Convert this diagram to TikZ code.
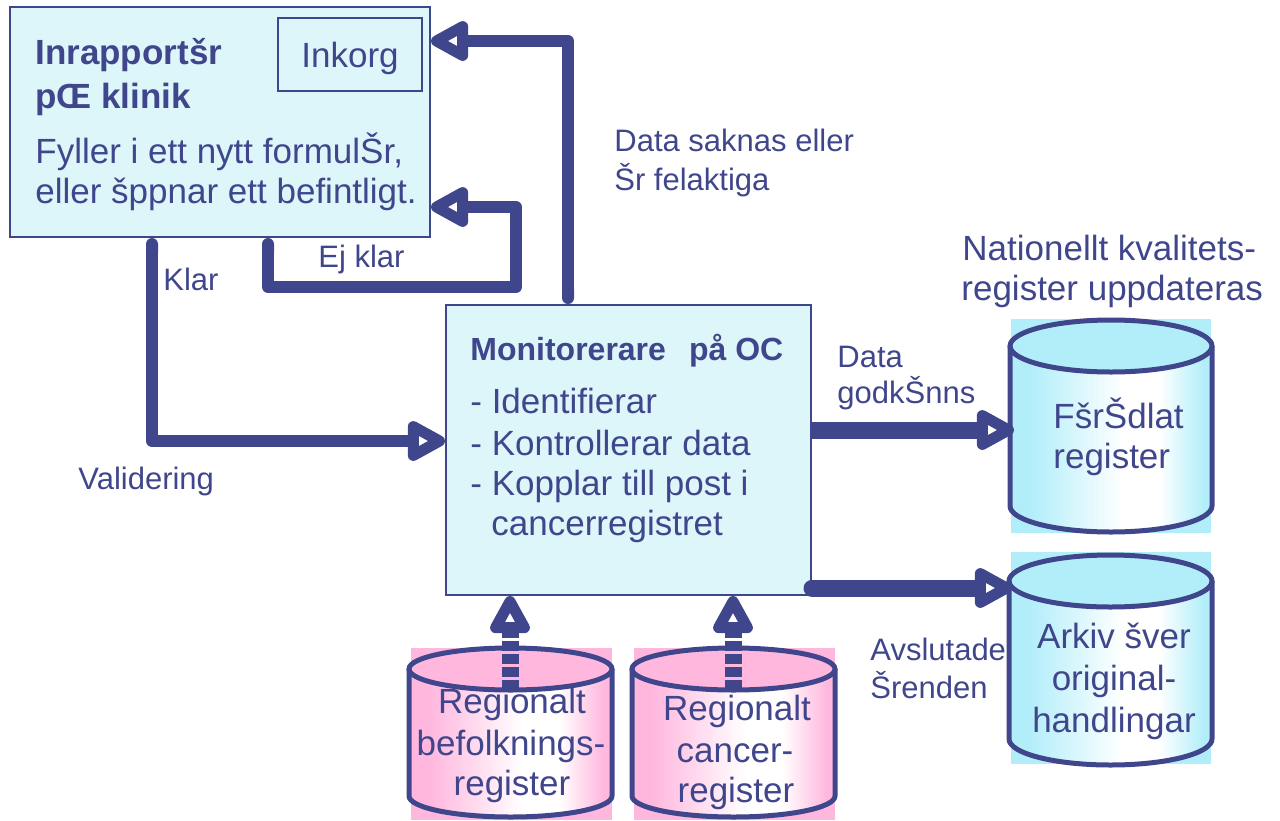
\documentclass[tikz,border=0pt]{standalone}
\usepackage{fontspec}
\setmainfont{Liberation Sans}
\usetikzlibrary{arrows.meta}
\definecolor{ink}{RGB}{64,70,140}
\definecolor{boxfill}{RGB}{221,246,250}
\definecolor{cylC}{RGB}{178,238,250}
\definecolor{cylP}{RGB}{255,183,222}
\pgfdeclarehorizontalshading{cylcyan}{100bp}{color(0bp)=(cylC); color(30bp)=(cylC); color(53bp)=(white); color(62bp)=(white); color(73bp)=(cylC); color(100bp)=(cylC)}
\pgfdeclarehorizontalshading{cylpink}{100bp}{color(0bp)=(cylP); color(30bp)=(cylP); color(53bp)=(white); color(62bp)=(white); color(73bp)=(cylP); color(100bp)=(cylP)}
\newcommand\mycyl[7]{% #1 xl, #2 xr, #3 top centre y, #4 bottom centre y, #5 ry, #6 shading, #7 end colour
  \pgfmathsetmacro\cylcx{(#1+#2)/2}\pgfmathsetmacro\cylrx{(#2-#1)/2}
  \path[shading=#6] (#1,#3) -- (#1,#4) arc[start angle=180,end angle=0,x radius=\cylrx,y radius=#5] -- (#2,#3) arc[start angle=0,end angle=180,x radius=\cylrx,y radius=#5] -- cycle;
  \fill[#7] (\cylcx,#3) ellipse[x radius=\cylrx,y radius=#5];
  \draw[ink,line width=2.5pt,line join=round] (#1,#3) -- (#1,#4) arc[start angle=180,end angle=0,x radius=\cylrx,y radius=#5] -- (#2,#3);
  \draw[ink,line width=2.5pt] (\cylcx,#3) ellipse[x radius=\cylrx,y radius=#5];
}
\tikzset{
  lbl/.style={text=ink, inner sep=0pt, font=\fontsize{15.5}{18}\selectfont},
  big/.style={text=ink, inner sep=0pt, font=\fontsize{17.5}{20}\selectfont},
  bigb/.style={text=ink, inner sep=0pt, font=\fontsize{17.5}{20}\selectfont\bfseries},
  midb/.style={text=ink, inner sep=0pt, font=\fontsize{16}{18}\selectfont\bfseries},
  box/.style={draw=ink, line width=1pt, fill=boxfill, inner sep=0pt},
  bigtip/.style={-{Triangle[open,length=22pt,width=22pt,line width=6pt,round]}},
  conn/.style={draw=ink, line width=6pt, line join=round, {Round Cap[]}-{Triangle[open,length=22pt,width=22pt,line width=6pt,round]}},
  connthick/.style={draw=ink, line width=8.5pt, bigtip},
  dashconn/.style={draw=ink, line width=8.5pt, dash pattern=on 5pt off 1.5pt, bigtip},
}
\begin{document}
\begin{tikzpicture}[x=0.5pt,y=-0.5pt]
\useasboundingbox (0,0) rectangle (1280,820);

% boxes
\node[box, minimum width=210pt, minimum height=115pt] (clinic) at (220,122) {};
\node[draw=ink, line width=0.6pt, fill=boxfill, minimum width=72pt, minimum height=36.5pt, inner sep=0pt] (inkorg) at (350,54.5) {};
\node[big, anchor=base] (inkorgt) at (350,67) {Inkorg};
\node[box, minimum width=182.5pt, minimum height=145pt] (monitor) at (628.5,450) {};

% clinic texts
\node[bigb, anchor=base west] (c1) at (35,64) {Inrapportšr};
\node[bigb, anchor=base west] (c2) at (35,108) {pŒ klinik};
\node[big, anchor=base west] (c3) at (35,163) {Fyller i ett nytt formulŠr,};
\node[big, anchor=base west] (c4) at (35,203) {eller šppnar ett befintligt.};

% monitor texts
\node[midb, anchor=base west] (m1) at (470,360) {Monitorerare \ \,på OC};
\node[big, anchor=base west] (m2) at (470,413) {- Identifierar};
\node[big, anchor=base west] (m3) at (470,455) {- Kontrollerar data};
\node[big, anchor=base west] (m4) at (470,495) {- Kopplar till post i};
\node[big, anchor=base west] (m5) at (491,535) {cancerregistret};

% cylinders
\fill[cylC] (1011,319) rectangle (1211,533);
\mycyl{1010}{1212}{346}{506}{26}{cylcyan}{cylC}
\fill[cylC] (1011,552) rectangle (1211,764);
\mycyl{1009}{1212}{581}{739}{26}{cylcyan}{cylC}
\fill[cylP] (411,648) rectangle (612,820);
\mycyl{409}{612}{669}{796}{21}{cylpink}{cylP}
\fill[cylP] (634,648) rectangle (835,820);
\mycyl{632}{835}{669}{796}{21}{cylpink}{cylP}

\coordinate (fordW) at (1014,430);
\coordinate (arkivW) at (1012,588);
\coordinate (pinkLtop) at (510,690);
\coordinate (pinkRtop) at (733,690);
\coordinate (ejA) at (268,287);
\coordinate (ejB) at (516,287);

% cylinder texts
\node[big, anchor=base west] (f1) at (1053,428) {FšrŠdlat};
\node[big, anchor=base west] (f2) at (1053,468) {register};
\node[big, anchor=base] (a1) at (1114,648) {Arkiv šver};
\node[big, anchor=base] (a2) at (1114,690) {original-};
\node[big, anchor=base] (a3) at (1114,732) {handlingar};
\node[big, anchor=base] (p1) at (512,713) {Regionalt};
\node[big, anchor=base] (p2) at (511,755) {befolknings-};
\node[big, anchor=base] (p3) at (512,795) {register};
\node[big, anchor=base] (q1) at (737,720) {Regionalt};
\node[big, anchor=base] (q2) at (735,762) {cancer-};
\node[big, anchor=base] (q3) at (736,802) {register};
\node[big, anchor=base west] (n1) at (962,260) {Nationellt kvalitets-};
\node[big, anchor=base west] (n2) at (961,300) {register uppdateras};

% connectors
\draw[conn] (clinic.south -| 152,0) |- (monitor.west |- 0,441);
\draw[conn] (clinic.south -| 268,0) -- (ejA) -- (ejB) |- (clinic.east |- 0,207);
\draw[conn] (monitor.north -| 568,0) |- (clinic.east |- 0,41);
\draw[connthick] (monitor.east |- fordW) -- (fordW);
\draw[connthick, line cap=round] (monitor.east |- arkivW) -- (arkivW);
\draw[dashconn] (pinkLtop) -- (monitor.south -| pinkLtop);
\draw[dashconn] (pinkRtop) -- (monitor.south -| pinkRtop);

% labels
\node[lbl, anchor=base west] (l1) at (614,151) {Data saknas eller};
\node[lbl, anchor=base west] (l2) at (614,190) {Šr felaktiga};
\node[lbl, anchor=base west] (l3) at (318,267) {Ej klar};
\node[lbl, anchor=base west] (l4) at (163,290) {Klar};
\node[lbl, anchor=base west] (l5) at (78,489) {Validering};
\node[lbl, anchor=base west] (l6) at (837,367) {Data};
\node[lbl, anchor=base west] (l7) at (837,403) {godkŠnns};
\node[lbl, anchor=base west] (l8) at (870,660) {Avslutade};
\node[lbl, anchor=base west] (l9) at (870,698) {Šrenden};
\end{tikzpicture}
\end{document}
